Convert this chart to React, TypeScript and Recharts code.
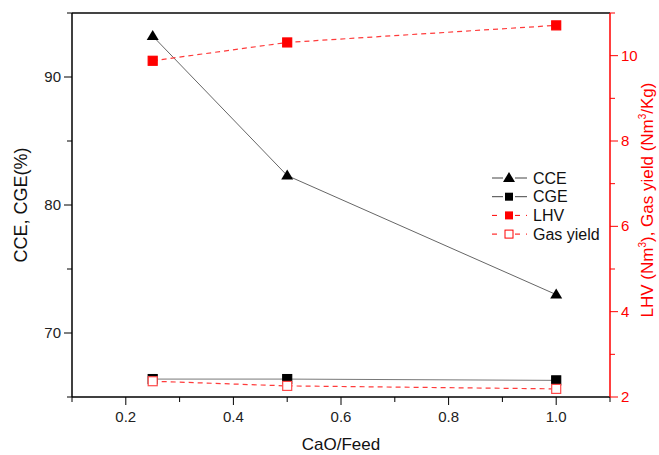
import React from "react";
import {
  LineChart,
  Line,
  XAxis,
  YAxis,
  ReferenceLine,
} from "recharts";

const caoFeed = [0.25, 0.5, 1.0];
const cceValues = [93.2, 82.3, 73.0];
const cgeValues = [66.4, 66.4, 66.3];
const lhvValues = [9.88, 10.31, 10.71];
const gasYieldValues = [2.37, 2.26, 2.19];

const xTicks = [0.1, 0.2, 0.3, 0.4, 0.5, 0.6, 0.7, 0.8, 0.9, 1.0, 1.1];
const xMajor = [0.2, 0.4, 0.6, 0.8, 1.0];
const leftTicks = [65, 70, 75, 80, 85, 90, 95];
const leftMajor = [70, 80, 90];
const rightTicks = [2, 3, 4, 5, 6, 7, 8, 9, 10, 11];
const rightMajor = [2, 4, 6, 8, 10];

const rows = caoFeed.map((c, i) => ({
  cao: c,
  cce: cceValues[i],
  cge: cgeValues[i],
  lhv: lhvValues[i],
  gas: gasYieldValues[i],
}));

const RED = "#ff0000";
const FONT = "'Liberation Sans', Arial, sans-serif";

const isIn = (list: number[], v: number) =>
  list.some((m) => Math.abs(m - v) < 1e-6);

const LeftTick = ({ x, y, payload }: any) => {
  const major = isIn(leftMajor, payload.value);
  return (
    <g>
      <line x1={x} x2={x - (major ? 8 : 5)} y1={y} y2={y} stroke="#000" />
      {major && (
        <text
          x={x - 11}
          y={y + 5}
          textAnchor="end"
          fontSize={15}
          fontFamily={FONT}
          fill="#222"
        >
          {payload.value}
        </text>
      )}
    </g>
  );
};

const RightTick = ({ x, y, payload }: any) => {
  const major = isIn(rightMajor, payload.value);
  return (
    <g>
      <line x1={x} x2={x + (major ? 8 : 5)} y1={y} y2={y} stroke={RED} />
      {major && (
        <text
          x={x + 11}
          y={y + 5}
          textAnchor="start"
          fontSize={15}
          fontFamily={FONT}
          fill={RED}
        >
          {payload.value}
        </text>
      )}
    </g>
  );
};

const BottomTick = ({ x, y, payload }: any) => {
  const major = isIn(xMajor, payload.value);
  return (
    <g>
      <line x1={x} x2={x} y1={y} y2={y + (major ? 8 : 5)} stroke="#000" />
      {major && (
        <text
          x={x}
          y={y + 25}
          textAnchor="middle"
          fontSize={15}
          fontFamily={FONT}
          fill="#222"
        >
          {payload.value.toFixed(1)}
        </text>
      )}
    </g>
  );
};

const Triangle = ({ cx, cy }: any) => {
  if (cx == null || cy == null) return <g />;
  return (
    <polygon
      points={`${cx},${cy - 6} ${cx - 6},${cy + 4} ${cx + 6},${cy + 4}`}
      fill="#000"
    />
  );
};

const Square = ({ cx, cy, fill, stroke }: any) => {
  if (cx == null || cy == null) return <g />;
  return (
    <rect
      x={cx - 4.5}
      y={cy - 4.5}
      width={9}
      height={9}
      fill={fill}
      stroke={stroke}
      strokeWidth={1.2}
    />
  );
};

const legendItems = [
  { name: "CCE", color: "#444", dash: undefined, mark: "tri" },
  { name: "CGE", color: "#444", dash: undefined, mark: "sq" },
  { name: "LHV", color: RED, dash: "5 6", mark: "red" },
  { name: "Gas yield", color: RED, dash: "5 6", mark: "open" },
];

const LegendBox = () => (
  <svg width={140} height={80} style={{ display: "block" }}>
    {legendItems.map((it, i) => {
      const cy = 10 + i * 18.7;
      return (
        <g key={it.name}>
          <line
            x1={2}
            x2={13}
            y1={cy}
            y2={cy}
            stroke={it.color}
            strokeDasharray={it.dash}
          />
          <line
            x1={25}
            x2={37}
            y1={cy}
            y2={cy}
            stroke={it.color}
            strokeDasharray={it.dash}
          />
          {it.mark === "tri" && (
            <polygon
              points={`19,${cy - 6} 13,${cy + 4} 25,${cy + 4}`}
              fill="#000"
            />
          )}
          {it.mark === "sq" && (
            <rect x={15} y={cy - 4} width={8} height={8} fill="#000" />
          )}
          {it.mark === "red" && (
            <rect x={15} y={cy - 4} width={8} height={8} fill={RED} />
          )}
          {it.mark === "open" && (
            <rect
              x={15}
              y={cy - 4}
              width={8}
              height={8}
              fill="#fff"
              stroke={RED}
            />
          )}
          <text
            x={43}
            y={cy + 5.5}
            fontSize={16}
            fontFamily={FONT}
            fill="#111"
          >
            {it.name}
          </text>
        </g>
      );
    })}
  </svg>
);

const LeftLabel = () => (
  <text
    transform="translate(27,205) rotate(-90)"
    textAnchor="middle"
    fontSize={18}
    fontFamily={FONT}
    fill="#111"
  >
    CCE, CGE(%)
  </text>
);

const RightLabel = () => (
  <text
    transform="translate(653,200) rotate(-90)"
    textAnchor="middle"
    fontSize={17}
    fontFamily={FONT}
    fill={RED}
  >
    LHV (Nm
    <tspan dy={-7} fontSize={10}>
      3
    </tspan>
    <tspan dy={7}>), Gas yield (Nm</tspan>
    <tspan dy={-7} fontSize={10}>
      3
    </tspan>
    <tspan dy={7}>/Kg)</tspan>
  </text>
);

const BottomLabel = () => (
  <text
    x={341}
    y={450}
    textAnchor="middle"
    fontSize={17}
    fontFamily={FONT}
    fill="#111"
  >
    CaO/Feed
  </text>
);

export default function App() {
  return (
    <div
      style={{ position: "absolute", left: 0, top: 0, background: "#fff" }}
    >
      <LineChart
        width={659}
        height={455}
        data={rows}
        margin={{ top: 13, right: 0, bottom: 0, left: 0 }}
      >
        <XAxis
          dataKey="cao"
          type="number"
          domain={[0.1, 1.1]}
          ticks={xTicks}
          interval={0}
          height={58}
          tickSize={0}
          tickMargin={0}
          tick={<BottomTick />}
          axisLine={{ stroke: "#000", strokeWidth: 1.5 }}
          label={{ content: () => <BottomLabel /> }}
        />
        <YAxis
          yAxisId="left"
          orientation="left"
          type="number"
          domain={[65, 95]}
          ticks={leftTicks}
          interval={0}
          width={72}
          tickSize={0}
          tickMargin={0}
          tick={<LeftTick />}
          axisLine={{ stroke: "#000", strokeWidth: 1.5 }}
          label={{ content: () => <LeftLabel /> }}
        />
        <YAxis
          yAxisId="right"
          orientation="right"
          type="number"
          domain={[2, 11]}
          ticks={rightTicks}
          interval={0}
          width={49}
          tickSize={0}
          tickMargin={0}
          tick={<RightTick />}
          axisLine={{ stroke: RED, strokeWidth: 1.5 }}
          label={{ content: () => <RightLabel /> }}
        />
        <ReferenceLine
          yAxisId="left"
          y={95}
          stroke="#444"
          strokeWidth={2}
        />
        <Line
          yAxisId="left"
          dataKey="cce"
          type="linear"
          stroke="#666"
          strokeWidth={1}
          dot={<Triangle />}
          isAnimationActive={false}
        />
        <Line
          yAxisId="left"
          dataKey="cge"
          type="linear"
          stroke="#777"
          strokeWidth={1}
          dot={<Square fill="#000" stroke="#000" />}
          isAnimationActive={false}
        />
        <Line
          yAxisId="right"
          dataKey="lhv"
          type="linear"
          stroke="#ff3b3b"
          strokeWidth={1.2}
          strokeDasharray="5 4"
          dot={<Square fill={RED} stroke={RED} />}
          isAnimationActive={false}
        />
        <Line
          yAxisId="right"
          dataKey="gas"
          type="linear"
          stroke="#ff3b3b"
          strokeWidth={1.2}
          strokeDasharray="5 4"
          dot={<Square fill="#fff" stroke="#ff4a4a" />}
          isAnimationActive={false}
        />
      </LineChart>
      <div style={{ position: "absolute", left: 490, top: 168 }}>
        <LegendBox />
      </div>
    </div>
  );
}
